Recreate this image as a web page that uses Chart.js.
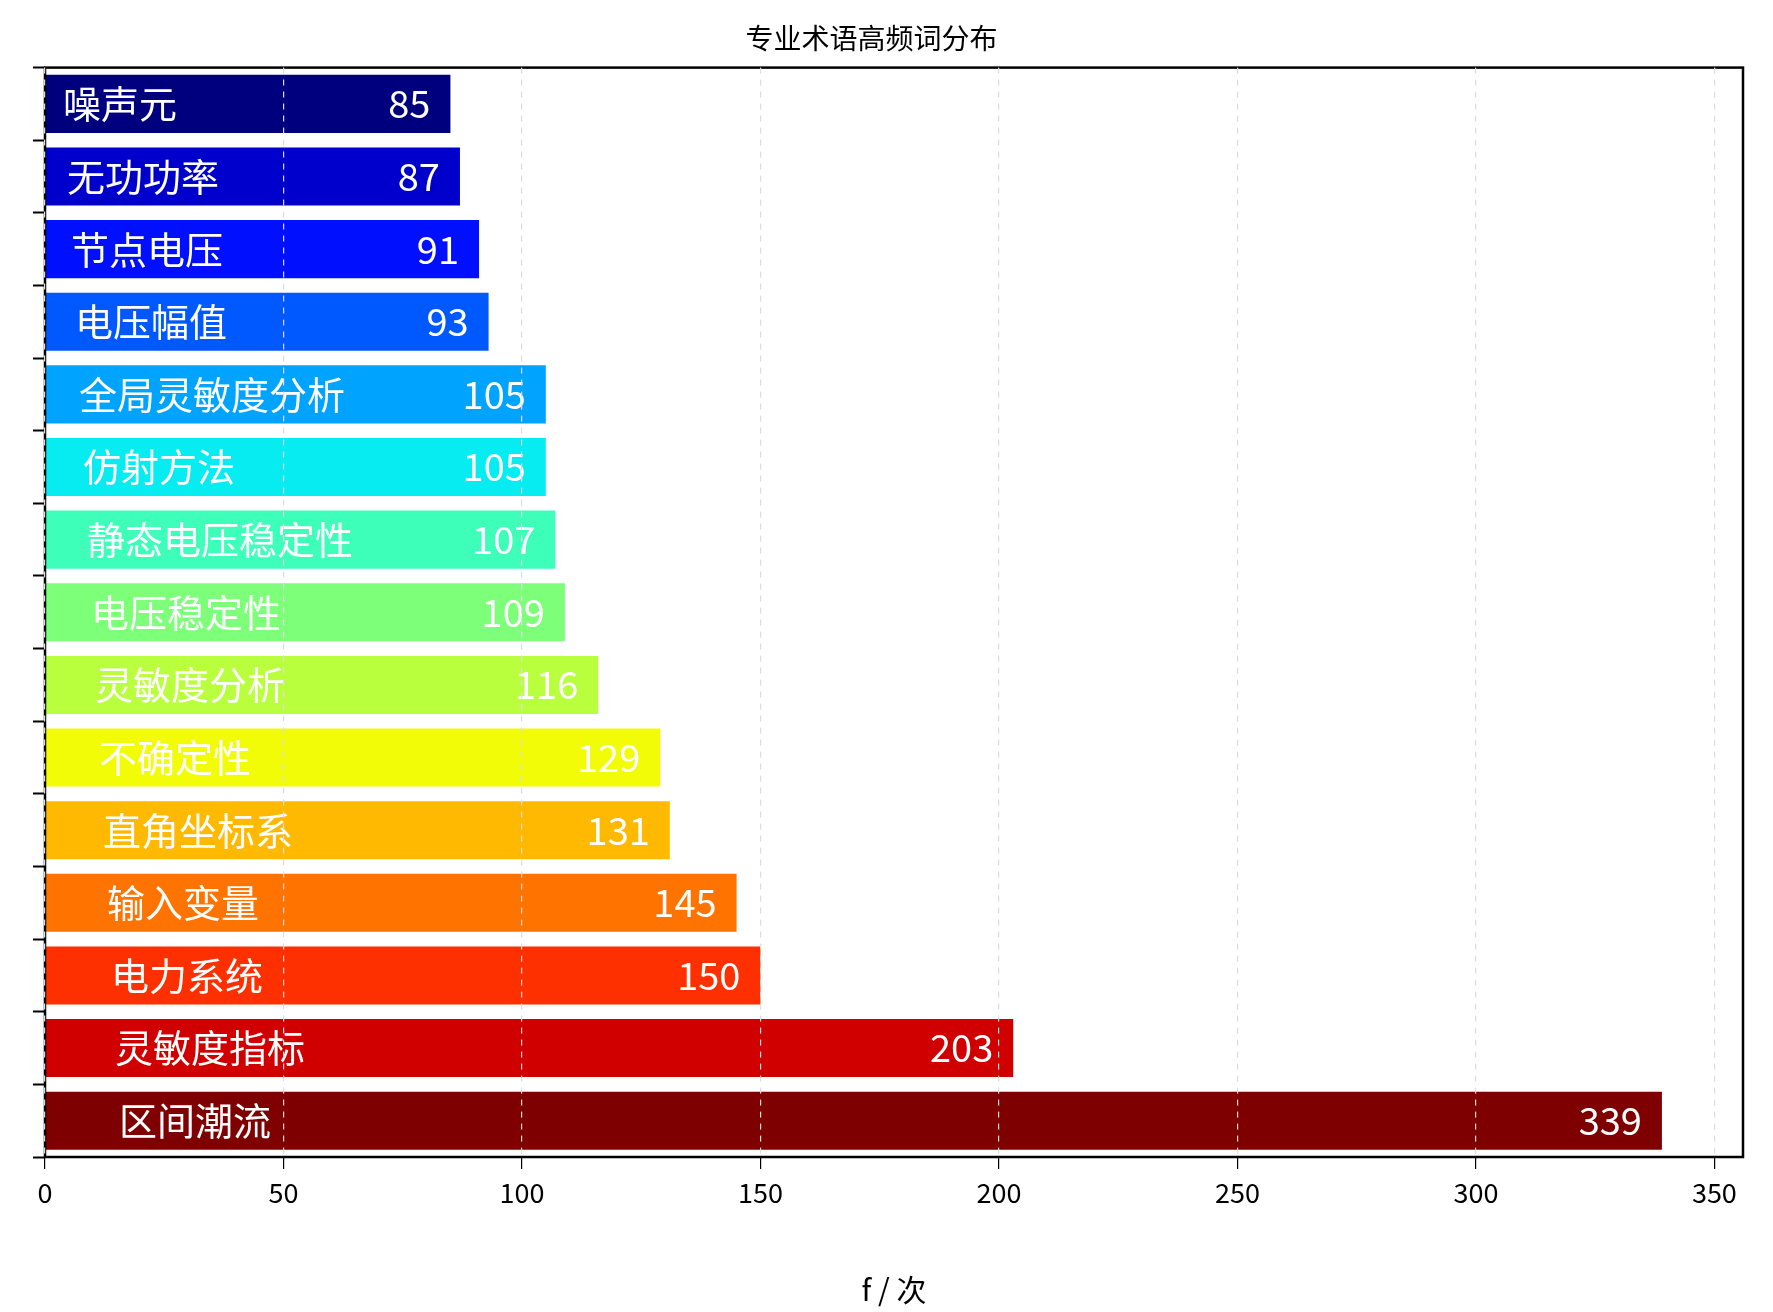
<!DOCTYPE html>
<html><head><meta charset="utf-8">
<script src="https://cdn.jsdelivr.net/npm/chart.js@4"></script>
<style>body{margin:0;background:#fff}#wrap{width:1773px;height:1312px}</style>
</head><body><div id="wrap"><canvas id="c"></canvas></div>
<script>
// data, top to bottom
const terms = ['噪声元','无功功率','节点电压','电压幅值','全局灵敏度分析','仿射方法','静态电压稳定性','电压稳定性','灵敏度分析','不确定性','直角坐标系','输入变量','电力系统','灵敏度指标','区间潮流'];
const counts = [85,87,91,93,105,105,107,109,116,129,131,145,150,203,339];
const barColors = ['#00007f','#0000cd','#0010ff','#0058ff','#00a4ff','#06ecf1','#3dffba','#7dff7a','#baff3d','#f1fc06','#ffb900','#ff7300','#ff3000','#d00000','#7f0000'];
const xTicks = [0,50,100,150,200,250,300,350];

const font = '"Noto Sans CJK SC", "Noto Sans", sans-serif';

// names and numbers written on the bars, plus the black frame
const barText = {
  id: 'barText',
  afterDatasetsDraw(chart) {
    const ctx = chart.ctx;
    const meta = chart.getDatasetMeta(0);
    const xs = chart.scales.x;
    ctx.save();
    ctx.fillStyle = '#fff';
    ctx.font = '38px ' + font;
    ctx.textBaseline = 'middle';
    meta.data.forEach((bar, i) => {
      ctx.textAlign = 'left';
      ctx.fillText(terms[i], xs.getPixelForValue(0) + 18 + i * 4, bar.y);
      ctx.textAlign = 'right';
      ctx.fillText(counts[i], bar.x - 20, bar.y);
    });
    const a = chart.chartArea;
    ctx.strokeStyle = '#000';
    ctx.lineWidth = 2.5;
    ctx.strokeRect(a.left, a.top, a.right - a.left, a.bottom - a.top);
    ctx.restore();
  }
};

new Chart(document.getElementById('c'), {
  type: 'bar',
  data: {
    labels: terms,
    datasets: [{ data: counts, backgroundColor: barColors, barPercentage: 0.8, categoryPercentage: 1 }]
  },
  options: {
    indexAxis: 'y',
    responsive: true,
    maintainAspectRatio: false,
    animation: false,
    layout: { padding: { right: 30, top: 0 } },
    plugins: {
      legend: { display: false },
      tooltip: { enabled: false },
      title: { display: true, text: '专业术语高频词分布', color: '#000', font: { family: font, size: 28, weight: 'normal' }, padding: { top: 22, bottom: 12 } }
    },
    scales: {
      x: {
        min: 0, max: 356,
        afterBuildTicks(s) { s.ticks = xTicks.map(v => ({ value: v })); },
        afterFit(s) { s.height = 155; },
        grid: { color: '#ddd', lineWidth: 1.2, z: 1, tickLength: 12, tickColor: '#000', drawTicks: true, tickBorderDash: [0] },
        border: { dash: [6, 6], display: false },
        ticks: { color: '#000', font: { family: font, size: 27 }, padding: 8 },
        title: { display: true, text: 'f / 次', color: '#000', font: { family: font, size: 30 }, padding: { top: 6 } }
      },
      y: {
        afterFit(s) { s.width = 45; },
        grid: { display: true, drawOnChartArea: false, tickLength: 12, tickColor: '#000', tickWidth: 2 },
        border: { display: false },
        ticks: { callback: () => '' }
      }
    }
  },
  plugins: [barText]
});
</script></body></html>
